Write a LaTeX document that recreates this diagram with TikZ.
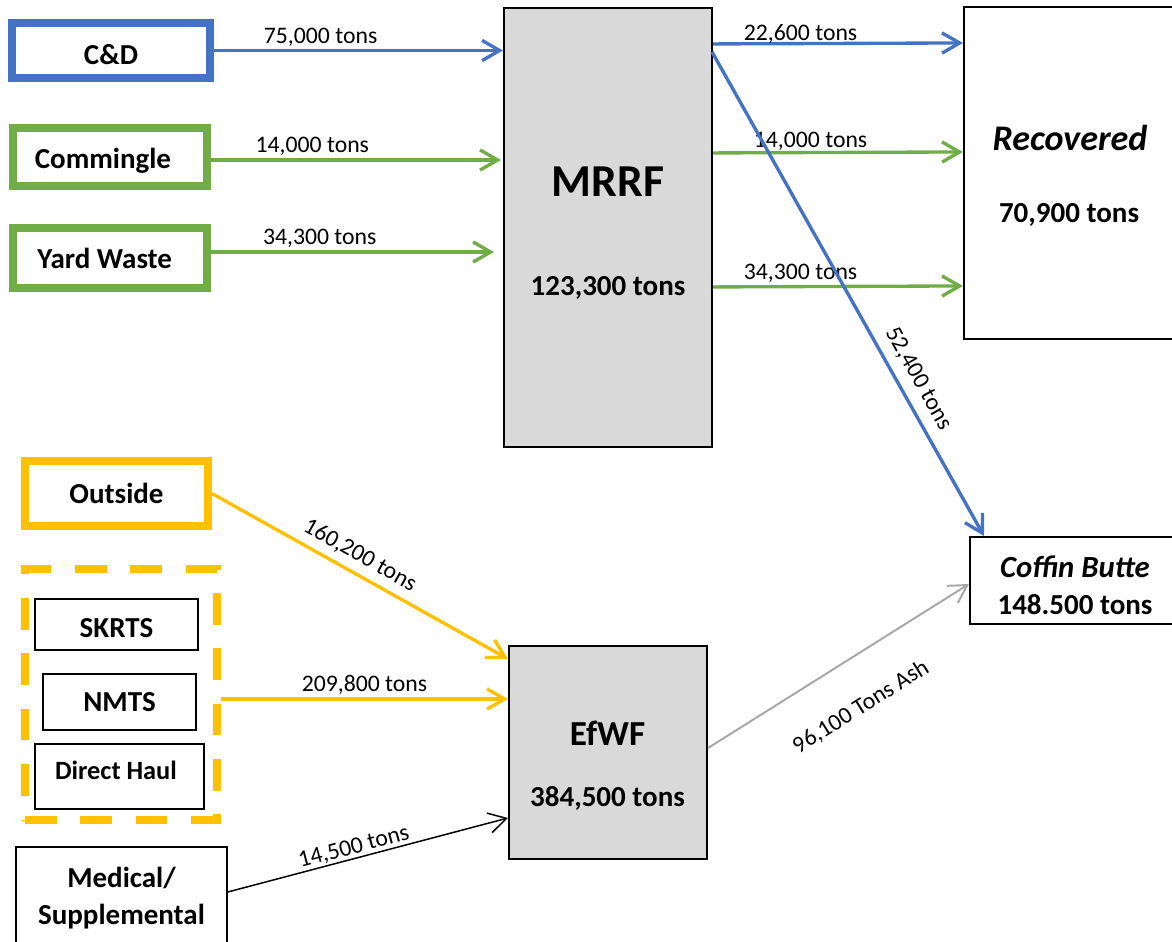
\documentclass[tikz,border=0pt]{standalone}
\usepackage{fontspec}
\setmainfont{Carlito}
\usetikzlibrary{arrows.meta,calc}
\definecolor{cblue}{HTML}{4472C4}
\definecolor{cgreen}{HTML}{70AD47}
\definecolor{cyellow}{HTML}{FFC000}
\definecolor{cgray}{HTML}{A6A6A6}
\definecolor{cfill}{HTML}{D9D9D9}
\begin{document}
\begin{tikzpicture}[x=0.02cm,y=-0.02cm,
  sz/.style 2 args={minimum width=#1*0.02cm, minimum height=#2*0.02cm, inner sep=0pt},
  thickbox/.style={draw=#1, line width=4pt, fill=white, font=\fontsize{16.5}{19}\selectfont\bfseries},
  thinbox/.style={draw=black, line width=0.85pt, fill=white, font=\fontsize{16.5}{19}\selectfont\bfseries},
  plant/.style={draw=black, line width=1.2pt, fill=cfill},
  endbox/.style={draw=black, line width=1.2pt, fill=white},
  bigtxt/.style={font=\fontsize{#1}{#1}\selectfont\bfseries, inner sep=0pt},
  ittxt/.style={font=\fontsize{#1}{#1}\selectfont\bfseries\itshape, inner sep=0pt},
  tip/.style={-{Straight Barb[length=10pt,width=11.5pt]}},
  flow/.style={draw=#1, line width=1.9pt, tip},
  lbl/.style={font=\fontsize{13.5}{15}\selectfont, text=black, inner sep=1.5pt},
]
\useasboundingbox (0,0) rectangle (1172,942);

% sources (top)
\node[thickbox=cblue, sz={198}{55}] (cd) at (111,50.5) {\raisebox{-2.5pt}[\height][\depth]{C\&D}};
\node[thickbox=cgreen, sz={194}{58}, line width=4.2pt] (comm) at (110,157) {\hspace*{-8pt}\raisebox{-2pt}[\height][\depth]{Commingle}};
\node[thickbox=cgreen, sz={194}{60}, line width=4.2pt] (yw) at (110,258) {\hspace*{-6pt}Yard Waste};

% MRRF
\node[plant, sz={208}{439}] (mrrf) at (608,227.5) {};
\node[bigtxt=26] (mrrft) at (608,182) {MRRF};
\node[bigtxt=16.5] (mrrfv) at (608,288) {123,300 tons};

% Recovered
\node[endbox, sz={216}{332}] (rec) at (1072,173) {};
\node[ittxt=20.5] (rect) at (1070,138) {Recovered};
\node[bigtxt=16.5] (recv) at (1069,215) {70,900 tons};

% sources (bottom)
\node[thickbox=cyellow, sz={183}{65}, line width=4.5pt] (out) at (116.5,493.5) {Outside};
\node[draw=cyellow, line width=4.5pt, dash pattern=on 18pt off 13.5pt, sz={192}{251}] (grp) at (121,694.5) {};
\node[thinbox, sz={163}{51}] (skrts) at (116.5,624.5) {\raisebox{-2pt}[\height][\depth]{SKRTS}};
\node[thinbox, sz={153}{56}] (nmts) at (119.5,702) {NMTS};
\node[thinbox, sz={169}{65}, font=\fontsize{15}{17}\selectfont\bfseries] (dh) at (119.5,776.5) {\hspace*{-4pt}\raisebox{3.5pt}[\height][\depth]{Direct Haul}};
\node[thinbox, sz={211}{103}, align=center, font=\fontsize{16.5}{21}\selectfont\bfseries] (med) at (121.5,898.5) {Medical/\\Supplemental};

% EfWF
\node[plant, sz={198}{213}] (efwf) at (608,752.5) {};
\node[bigtxt=20] (efwft) at (607.5,733) {EfWF};
\node[bigtxt=16.5] (efwfv) at (607.5,798.5) {384,500 tons};

% Coffin Butte
\node[endbox, sz={210}{87}] (cb) at (1075,580.5) {};
\node[ittxt=17.5] (cbt) at (1075,567) {Coffin Butte};
\node[bigtxt=16.5] (cbv) at (1075,605) {148.500 tons};

% flows into MRRF
\draw[flow=cblue] (cd.east) -- (cd.east -| mrrf.west) node[lbl, pos=.37, above] {75,000 tons};
\draw[flow=cgreen] ($(comm.east)+(0,3)$) -- ($(comm.east -| mrrf.west)+(-2,3)$) node[lbl, pos=.35, above] {14,000 tons};
\draw[flow=cgreen] ($(yw.east)+(0,-6)$) -- ($(yw.east -| mrrf.west)+(-9,-6)$) node[lbl, pos=.385, above] {34,300 tons};

% flows out of MRRF
\draw[flow=cblue] ($(mrrf.north east)+(0,37)$) -- ($(rec.north west)+(0,37)$) node[lbl, pos=.35, above, inner sep=-1pt] {22,600 tons};
\draw[flow=cgreen] ($(mrrf.north east)+(0,146)$) -- ($(rec.north west)+(0,146)$) node[lbl, pos=.39, above, inner sep=0pt] {14,000 tons};
\draw[flow=cgreen] ($(mrrf.north east)+(0,280)$) -- ($(rec.north west)+(0,280)$) node[lbl, pos=.35, above] {34,300 tons};
\draw[flow=cblue] ($(mrrf.north east)+(-1,45)$) -- ($(cb.north west)+(15,0)$) node[lbl, pos=.695, sloped, above, inner sep=5pt] {52,400 tons};

% flows into EfWF
\draw[flow=cyellow] (out.east) -- ($(efwf.north west)+(0,14)$) node[lbl, pos=.47, sloped, above, inner sep=4pt] {160,200 tons};
\draw[flow=cyellow] ($(grp.east)+(0,4.5)$) -- ($(grp.east -| efwf.west)+(0,4.5)$) node[lbl, pos=.5, above] {209,800 tons};
\draw[black, line width=0.85pt, tip] ($(med.east)+(0,-6.5)$) -- ($(efwf.west)+(0,65.5)$) node[lbl, pos=.46, sloped, above, inner sep=0.5pt] {14,500 tons};

% ash to landfill
\draw[cgray, line width=1.1pt, tip] ($(efwf.east)+(0,-4.5)$) -- ($(cb.west)+(0,3.5)$) node[lbl, pos=.49, sloped, below=19pt] {96,100 Tons Ash};
\end{tikzpicture}
\end{document}
